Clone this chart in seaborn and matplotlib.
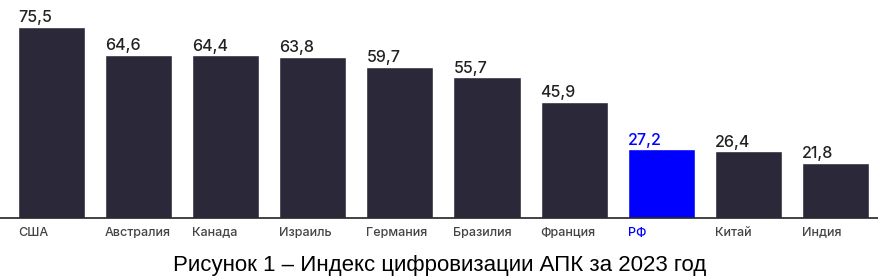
import pandas as pd
import matplotlib
matplotlib.use("Agg")
import matplotlib.pyplot as plt
import seaborn as sns

countries = ["США", "Австралия", "Канада", "Израиль", "Германия",
             "Бразилия", "Франция", "РФ", "Китай", "Индия"]
values = [75.5, 64.6, 64.4, 63.8, 59.7, 55.7, 45.9, 27.2, 26.4, 21.8]
highlight = "РФ"

df = pd.DataFrame({"country": countries, "value": values})
df["group"] = ["hl" if c == highlight else "base" for c in countries]

sns.set_theme(style="white")
plt.rcParams["font.family"] = ["Inter", "DejaVu Sans"]

dark = "#2a2839"
blue = "#0000ff"

fig = plt.figure(figsize=(8.79, 2.77), dpi=100)
ax = fig.add_axes([0, 0.213, 1, 213 / 277])
sns.barplot(data=df, x="country", y="value", hue="group",
            palette={"base": dark, "hl": blue}, width=0.77,
            legend=False, ax=ax, saturation=1)

ax.set_xlim(-0.59, 9.5)
ax.set_ylim(0, 75.5 * 213 / 191)
for s in ["top", "right", "left"]:
    ax.spines[s].set_visible(False)
ax.spines["bottom"].set_color("#222222")
ax.spines["bottom"].set_linewidth(1.2)
ax.set_yticks([])
ax.set_xlabel("")
ax.set_ylabel("")
ax.set_xticks([])

# value labels and category labels, left-aligned to bar edge
for i, (c, v) in enumerate(zip(countries, values)):
    col = blue if c == highlight else "#222222"
    left = i - 0.385
    ax.text(left, v + 0.6, f"{v:.1f}".replace(".", ","), ha="left", va="bottom",
            fontsize=11.5, fontweight="medium", color=col)
    ax.text(left, -3.4, c, ha="left", va="top", fontsize=9,
            fontweight="medium", color=blue if c == highlight else "#444444",
            clip_on=False)

fig.text(0.5, 0.043, "Рисунок 1 – Индекс цифровизации АПК за 2023 год",
         ha="center", va="center", fontsize=16, family="Liberation Sans",
         color="#000000")

fig.savefig("out.png", dpi=100)
